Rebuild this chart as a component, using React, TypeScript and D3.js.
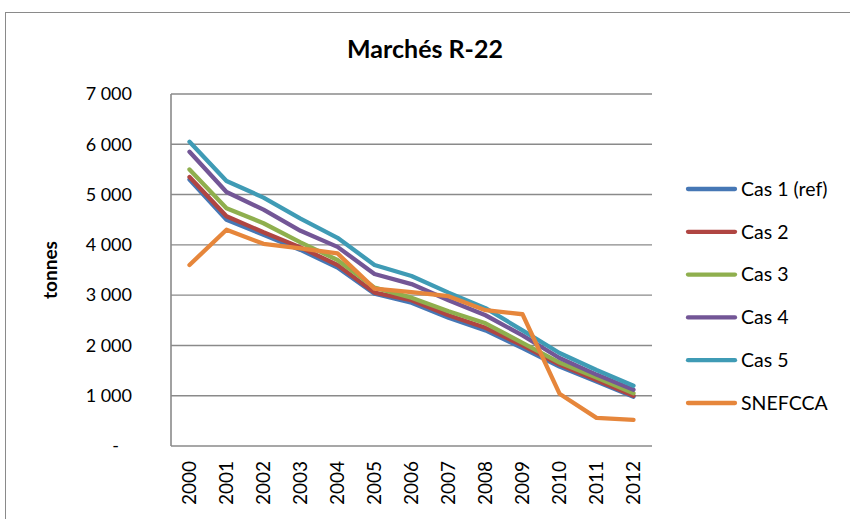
import React from 'react';
import * as d3 from 'd3';

// data
const years = ['2000','2001','2002','2003','2004','2005','2006','2007','2008','2009','2010','2011','2012'];
const cas1 = [5300, 4500, 4200, 3900, 3550, 3030, 2850, 2550, 2300, 1950, 1580, 1280, 980];
const cas2 = [5350, 4570, 4250, 3950, 3600, 3050, 2900, 2600, 2350, 2000, 1620, 1310, 1000];
const cas3 = [5500, 4730, 4430, 4050, 3700, 3150, 2950, 2680, 2440, 2050, 1660, 1360, 1050];
const cas4 = [5850, 5050, 4700, 4280, 3960, 3420, 3220, 2900, 2600, 2200, 1750, 1420, 1120];
const cas5 = [6050, 5270, 4940, 4520, 4140, 3600, 3380, 3050, 2740, 2300, 1850, 1510, 1200];
const snefcca = [3600, 4300, 4020, 3930, 3830, 3130, 3060, 2980, 2700, 2620, 1040, 560, 520];
const seriesNames = ['Cas 1 (ref)', 'Cas 2', 'Cas 3', 'Cas 4', 'Cas 5', 'SNEFCCA'];
const seriesColors = ['#4677B5', '#B04542', '#8FAF4E', '#735696', '#3F9BB5', '#E6863B'];
const yTicks = [0, 1000, 2000, 3000, 4000, 5000, 6000, 7000];

const W = 850, H = 519;
const plot = { left: 171, right: 652, top: 94, bottom: 446 };
const font = 'Lato, sans-serif';
const grid = '#8a8a8a';

const fmt = (v: number) => v === 0 ? '-' : d3.format(',')(v).replace(',', ' ');

export default function App() {
  const allSeries = [cas1, cas2, cas3, cas4, cas5, snefcca];

  const x = d3.scalePoint<string>().domain(years).range([plot.left, plot.right]).padding(0.5);
  const y = d3.scaleLinear().domain([0, 7000]).range([plot.bottom, plot.top]);

  const line = d3.line<number>()
    .x((d, i) => x(years[i]) as number)
    .y(d => y(d));

  return (
    <svg width={W} height={H} style={{ position: 'absolute', left: 0, top: 0, background: '#fff' }}>
      {/* chart frame */}
      <rect x={5.5} y={12.5} width={900} height={600} fill="#fff" stroke={grid} strokeWidth={1} />

      <text x={425} y={58} textAnchor="middle" fontFamily={font} fontWeight="bold" fontSize={25} fill="#000">Marchés R-22</text>

      {/* gridlines */}
      {yTicks.map(t => (
        <line key={t} x1={plot.left} x2={plot.right} y1={y(t)} y2={y(t)} stroke={grid} strokeWidth={1.4} />
      ))}
      <line x1={plot.left} x2={plot.left} y1={plot.top} y2={plot.bottom} stroke={grid} strokeWidth={1.6} />

      {/* y tick labels */}
      {yTicks.map(t => (
        <text key={t} x={t === 0 ? 119 : 132} y={y(t)} dy="0.35em" textAnchor="end" fontFamily={font} fontSize={18} fill="#000">{fmt(t)}</text>
      ))}

      <text transform={`translate(57,${(plot.top + plot.bottom) / 2}) rotate(-90)`} textAnchor="middle" fontFamily={font} fontWeight="bold" fontSize={19} fill="#000">tonnes</text>

      {/* x labels */}
      {years.map(yr => (
        <text key={yr} transform={`translate(${x(yr)},461) rotate(-90)`} textAnchor="end" dy="0.36em" fontFamily={font} fontSize={19} fill="#000">{yr}</text>
      ))}

      {/* series */}
      {allSeries.map((s, i) => (
        <path key={i} d={line(s) || ''} fill="none" stroke={seriesColors[i]} strokeWidth={4.3} strokeLinejoin="round" strokeLinecap="round" />
      ))}

      {/* legend */}
      {seriesNames.map((n, i) => {
        const ly = 189 + i * 42.8;
        return (
          <g key={n}>
            <line x1={688} x2={735} y1={ly} y2={ly} stroke={seriesColors[i]} strokeWidth={4.3} strokeLinecap="round" />
            <text x={741} y={ly} dy="0.35em" fontFamily={font} fontSize={19.5} fill="#000">{n}</text>
          </g>
        );
      })}
    </svg>
  );
}
